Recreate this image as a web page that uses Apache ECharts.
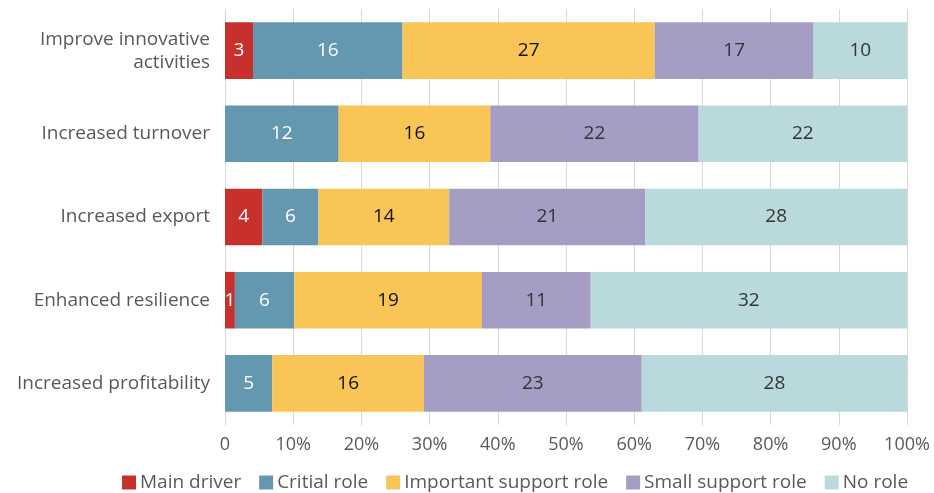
<!DOCTYPE html>
<html>
<head>
<meta charset="utf-8">
<style>
  html, body { margin: 0; padding: 0; background: #fff; }
  #chart { width: 934px; height: 493px; }
</style>
<script src="https://cdn.jsdelivr.net/npm/echarts@6/dist/echarts.min.js"></script>
</head>
<body>
<div id="chart"></div>
<script>
// Outcomes, top to bottom
const categories = [
  'Improve innovative\nactivities',
  'Increased turnover',
  'Increased export',
  'Enhanced resilience',
  'Increased profitability'
];

// Number of respondents per role, one entry per outcome
const mainDriver       = [3, 0, 4, 1, 0];
const critialRole      = [16, 12, 6, 6, 5];
const importantSupport = [27, 16, 14, 19, 16];
const smallSupport     = [17, 22, 21, 11, 23];
const noRole           = [10, 22, 28, 32, 28];

const tickValues = [0, 10, 20, 30, 40, 50, 60, 70, 80, 90, 100];

const seriesDefs = [
  { name: 'Main driver',            counts: mainDriver,       color: '#C8302E', text: '#ffffff' },
  { name: 'Critial role',           counts: critialRole,      color: '#6498B0', text: '#ffffff' },
  { name: 'Important support role', counts: importantSupport, color: '#F8C556', text: '#111111' },
  { name: 'Small support role',     counts: smallSupport,     color: '#A59DC4', text: '#333333' },
  { name: 'No role',                counts: noRole,           color: '#BAD9DC', text: '#333333' }
];

// Row totals turn counts into shares of 100%
const totals = categories.map((_, i) =>
  seriesDefs.reduce((s, d) => s + d.counts[i], 0));

const FONT = '"Open Sans", sans-serif';

const series = seriesDefs.map(d => ({
  name: d.name,
  type: 'bar',
  stack: 'all',
  barWidth: '68%',
  itemStyle: { color: d.color },
  label: {
    show: true,
    position: 'inside',
    color: d.text,
    fontFamily: FONT,
    fontSize: 19,
    formatter: p => (p.data.count > 0 ? String(p.data.count) : '')
  },
  emphasis: { disabled: true },
  data: d.counts.map((c, i) => ({ value: c / totals[i] * 100, count: c }))
}));

const chart = echarts.init(document.getElementById('chart'), null, { renderer: 'canvas' });
chart.setOption({
  animation: false,
  textStyle: { fontFamily: FONT },
  grid: { left: 225, right: 27, top: 9, bottom: 68, containLabel: false },
  xAxis: {
    type: 'value',
    min: tickValues[0],
    max: tickValues[tickValues.length - 1],
    interval: 10,
    axisLine: { show: false },
    axisTick: { show: false },
    splitLine: { show: true, lineStyle: { color: '#d9d9d9', width: 1 } },
    axisLabel: {
      color: '#595959',
      fontSize: 18,
      margin: 11,
      fontFamily: FONT,
      formatter: v => (v === 0 ? '0' : v + '%')
    }
  },
  yAxis: {
    type: 'category',
    inverse: true,
    data: categories,
    axisLine: { show: false },
    axisTick: { show: false },
    axisLabel: {
      color: '#595959',
      fontSize: 19,
      lineHeight: 23,
      margin: 15,
      fontFamily: FONT,
      align: 'right'
    }
  },
  legend: {
    bottom: -4,
    left: 117,
    itemWidth: 14,
    itemHeight: 14,
    itemGap: 18,
    icon: 'rect',
    textStyle: { color: '#595959', fontSize: 19, fontFamily: FONT, padding: [0, 0, 0, -1] },
    data: seriesDefs.map(d => d.name)
  },
  series
});
</script>
</body>
</html>
